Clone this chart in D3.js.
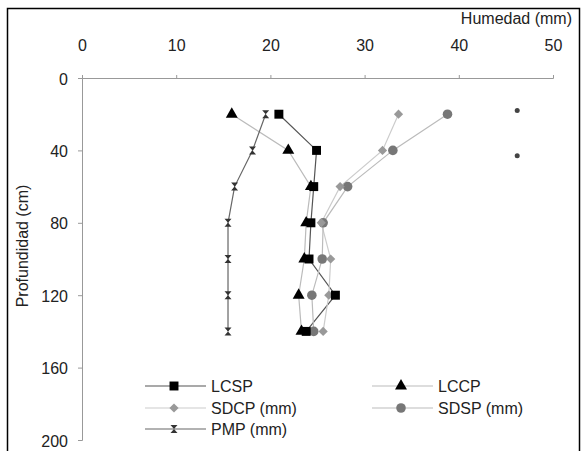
<!DOCTYPE html>
<html>
<head>
<meta charset="utf-8">
<script src="https://cdn.jsdelivr.net/npm/d3@7"></script>
<style>
  body { margin: 0; background: #fff; }
  svg { font-family: "Liberation Sans", Arial, sans-serif; }
</style>
</head>
<body>
<div class="js-chart"></div>
<script>
'use strict';

// data
const depths = [20, 40, 60, 80, 100, 120, 140];
const lcsp = [20.9, 24.9, 24.6, 24.3, 24.1, 26.9, 23.8];
const lccp = [15.9, 21.9, 24.3, 23.8, 23.6, 23.0, 23.3];
const sdcp = [33.6, 31.9, 27.4, 25.4, 26.4, 26.2, 25.6];
const sdsp = [38.8, 33.0, 28.2, 25.6, 25.5, 24.4, 24.6];
const pmp = [19.5, 18.1, 16.2, 15.5, 15.5, 15.5, 15.5];
const extraX = [46.2, 46.2];
const extraDepth = [18, 43];
const xTicks = [0, 10, 20, 30, 40, 50];
const yTicks = [0, 40, 80, 120, 160, 200];

const width = 582;
const height = 451;

const svg = d3.select('.js-chart')
    .append('svg')
    .attr('width', width)
    .attr('height', height);

// frame
svg.append('rect')
    .attr('x', 7.5)
    .attr('y', 8.5)
    .attr('width', 572)
    .attr('height', 460)
    .attr('fill', 'none')
    .attr('stroke', '#000')
    .attr('stroke-width', 1.5);

// scales
const x = d3.scaleLinear().domain([0, 50]).range([82, 553]);
const y = d3.scaleLinear().domain([0, 200]).range([78, 440]);

// axes
const xAxis = d3.axisTop(x).tickValues(xTicks).tickSize(3).tickPadding(24);
const yAxis = d3.axisLeft(y).tickValues(yTicks).tickSize(4).tickPadding(10);

const xAxisGroup = svg.append('g')
    .attr('transform', `translate(0, ${y(0)})`)
    .call(xAxis);

const yAxisGroup = svg.append('g')
    .attr('transform', `translate(${x(0)}, 0)`)
    .call(yAxis);

[xAxisGroup, yAxisGroup].forEach(g => {
    g.select('.domain').attr('stroke', '#999');
    g.selectAll('.tick line').attr('stroke', '#999');
    g.selectAll('.tick text')
        .attr('fill', '#222')
        .style('font-size', '16px')
        .style('font-family', '"Liberation Sans", Arial, sans-serif');
});
yAxisGroup.selectAll('.tick text').attr('dy', '0.38em');

// axis titles
svg.append('text')
    .attr('x', 572)
    .attr('y', 24)
    .attr('text-anchor', 'end')
    .attr('fill', '#222')
    .style('font-size', '16px')
    .text('Humedad (mm)');

svg.append('text')
    .attr('transform', 'translate(28, 246) rotate(-90)')
    .attr('text-anchor', 'middle')
    .attr('fill', '#222')
    .style('font-size', '16px')
    .text('Profundidad (cm)');

// marker shapes
const square = d3.symbol().type(d3.symbolSquare).size(80);
const triangle = d3.symbol().type(d3.symbolTriangle).size(62);
const diamond = () => 'M0,-4.6L4.6,0L0,4.6L-4.6,0Z';
const circle = d3.symbol().type(d3.symbolCircle).size(72);
const hourglass = () => 'M-3.5,-4L3.5,-4L-3.5,4L3.5,4Z';

const series = [
    { name: 'LCSP', values: lcsp, line: '#555', fill: '#000', shape: square },
    { name: 'LCCP', values: lccp, line: '#bbb', fill: '#000', shape: triangle },
    { name: 'SDCP (mm)', values: sdcp, line: '#ccc', fill: '#999', shape: diamond },
    { name: 'SDSP (mm)', values: sdsp, line: '#bbb', fill: '#777', shape: circle },
    { name: 'PMP (mm)', values: pmp, line: '#666', fill: '#333', shape: hourglass }
];

const line = d3.line()
    .x(d => x(d[0]))
    .y(d => y(d[1]));

// draw lines first, then markers
series.forEach(s => {
    const pts = s.values.map((v, i) => [v, depths[i]]);
    svg.append('path')
        .datum(pts)
        .attr('d', line)
        .attr('fill', 'none')
        .attr('stroke', s.line)
        .attr('stroke-width', 1.2);
});

series.slice().reverse().forEach(s => {
    const pts = s.values.map((v, i) => [v, depths[i]]);
    svg.append('g')
        .selectAll('path')
        .data(pts)
        .enter()
        .append('path')
        .attr('d', s.shape)
        .attr('transform', d => `translate(${x(d[0])}, ${y(d[1])})`)
        .attr('fill', s.fill);
});

// stray points at right
svg.append('g')
    .selectAll('circle')
    .data(extraX.map((v, i) => [v, extraDepth[i]]))
    .enter()
    .append('circle')
    .attr('cx', d => x(d[0]))
    .attr('cy', d => y(d[1]))
    .attr('r', 2.5)
    .attr('fill', '#444');

// legend
const legendPos = [
    { lx: 145, ly: 386 },
    { lx: 372, ly: 386 },
    { lx: 145, ly: 408 },
    { lx: 372, ly: 408 },
    { lx: 145, ly: 429 }
];

series.forEach((s, i) => {
    const p = legendPos[i];
    const g = svg.append('g').attr('transform', `translate(${p.lx}, ${p.ly})`);
    g.append('line')
        .attr('x1', 0).attr('x2', 61)
        .attr('y1', 0).attr('y2', 0)
        .attr('stroke', s.line)
        .attr('stroke-width', 1.2);
    g.append('path')
        .attr('d', s.shape)
        .attr('transform', 'translate(29, 0)')
        .attr('fill', s.fill);
    g.append('text')
        .attr('x', 66)
        .attr('y', 6)
        .attr('fill', '#222')
        .style('font-size', '16px')
        .text(s.name);
});
</script>
</body>
</html>
